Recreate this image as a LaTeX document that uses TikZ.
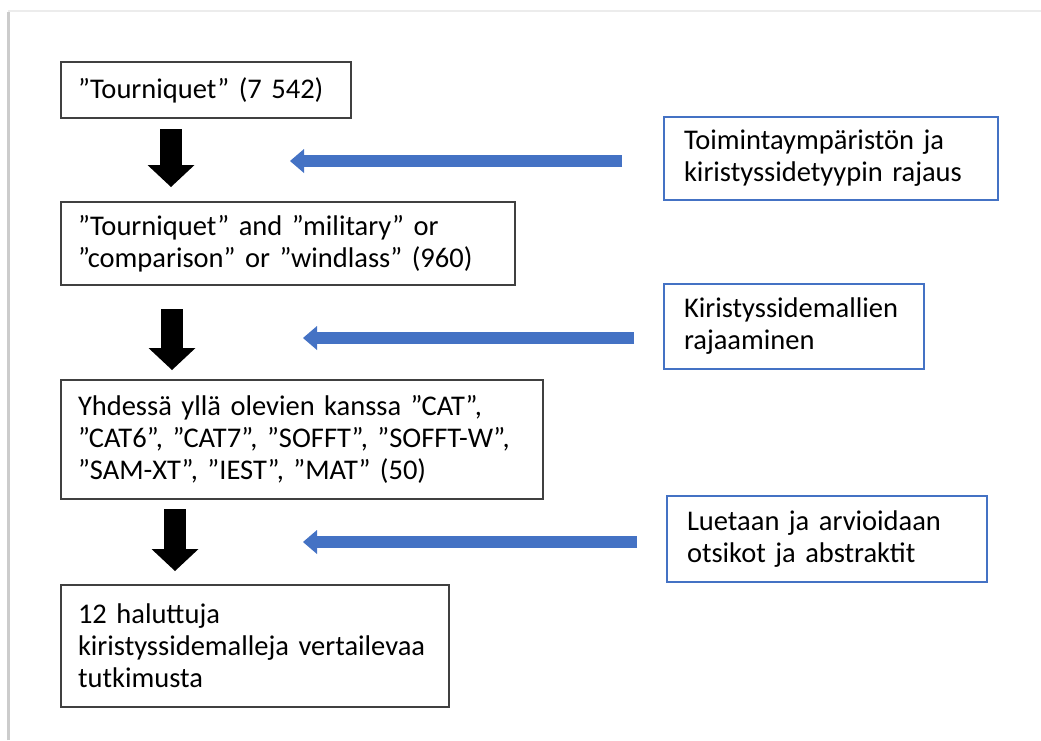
\documentclass[tikz,border=0pt]{standalone}
\usepackage{fontspec}
\setmainfont{Carlito}
\usetikzlibrary{arrows.meta,positioning,calc}
\definecolor{wordblue}{HTML}{4472C4}
\tikzset{black box/.style={draw=black!75, line width=1.2pt, inner xsep=17pt, inner ysep=0pt,
  align=left, font=\fontsize{28.5}{32}\selectfont},
blue box/.style={draw=wordblue, line width=1.6pt, inner xsep=20pt, inner ysep=0pt,
  align=left, font=\fontsize{28.5}{32}\selectfont},
down shift/.style={line width=22pt, -{Triangle[width=47pt,length=22pt,line width=0pt]}},
back shift/.style={wordblue, line width=12pt, -{Triangle[width=24pt,length=14pt,line width=0pt]}}}

\begin{document}
\begin{tikzpicture}[x=1pt, y=-1pt]
        \useasboundingbox (0,0) rectangle (1041,740);
        \draw[gray!40, line width=3pt] (8,740) -- (8,12);
        \draw[gray!15, line width=1.5pt] (8,11) -- (1041,11);

        \node[black box, text width=256pt, minimum height=56pt] (1) at (206, 90) {”Tourniquet” (7 542)};
        \node[black box, text width=420pt, minimum height=83pt] (2) at (288, 243.5) {”Tourniquet” and ”military” or\\ ”comparison” or ”windlass” (960)};
        \node[black box, text width=448pt, minimum height=119pt] (3) at (302, 439.5) {Yhdessä yllä olevien kanssa ”CAT”,\\ ”CAT6”, ”CAT7”, ”SOFFT”, ”SOFFT-W”,\\ ”SAM-XT”, ”IEST”, ”MAT” (50)};
        \node[black box, text width=354pt, minimum height=122pt] (4) at (255, 646) {12 haluttuja\\ kiristyssidemalleja vertailevaa\\ tutkimusta};

        \node[blue box, text width=294pt, minimum height=83pt] (r1) at (831, 158.5) {Toimintaympäristön ja\\ kiristyssidetyypin rajaus};
        \node[blue box, text width=220pt, minimum height=85pt] (r2) at (794, 326.5) {Kiristyssidemallien\\ rajaaminen};
        \node[blue box, text width=280pt, minimum height=86pt] (r3) at (827, 539) {Luetaan ja arvioidaan\\ otsikot ja abstraktit};

        \coordinate (d1) at (171, 129);
        \coordinate (d2) at (172, 309);
        \coordinate (d3) at (175, 509);
        \coordinate (e1) at (290, 161);
        \coordinate (e2) at (303, 338);
        \coordinate (e3) at (303, 542);

        \draw (d1) edge[down shift] ($(d1)+(0,58)$)
              (d2) edge[down shift] ($(d2)+(0,61)$)
              (d3) edge[down shift] ($(d3)+(0,62)$)

              ($(r1.west)+(-41,2.5)$) edge[back shift] (e1)
              ($(r2.west)+(-29,11.5)$) edge[back shift] (e2)
              ($(r3.west)+(-29,3)$) edge[back shift] (e3)
              ;
    \end{tikzpicture}
\end{document}
